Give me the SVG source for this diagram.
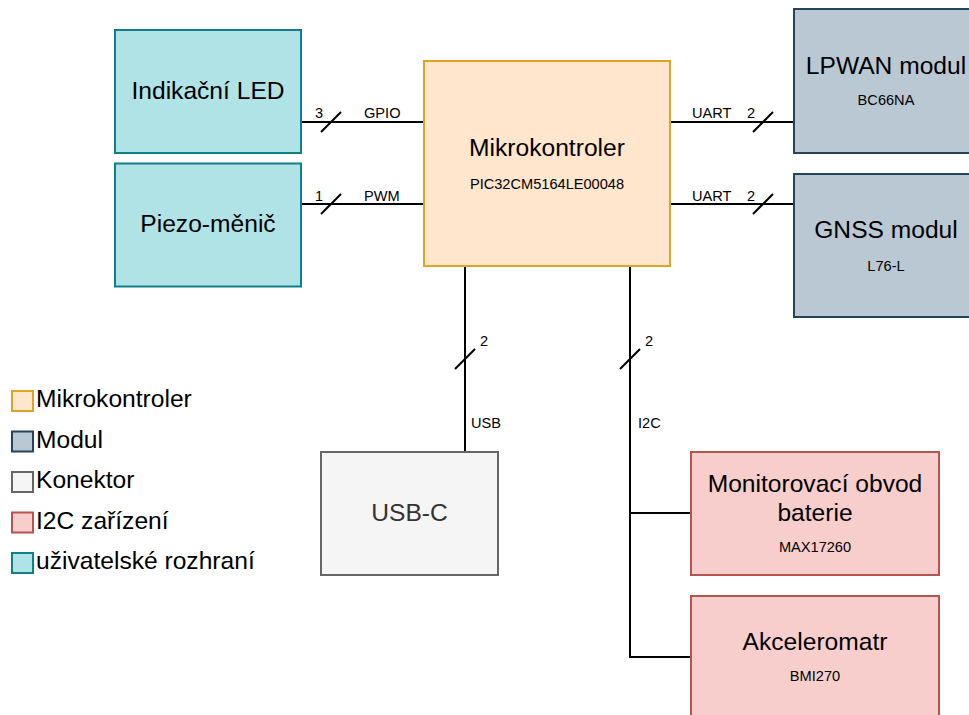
<svg xmlns="http://www.w3.org/2000/svg" width="969" height="715" viewBox="0 0 969 715">
<style>
text{font-family:"Liberation Sans",Arial,sans-serif;fill:#000}
.big{font-size:24.6px;text-anchor:middle}
.sm{font-size:14.6px;text-anchor:middle}
.lbl{font-size:14.6px}
.leg{font-size:24.6px}
.b{stroke-width:2}
.mcu{fill:#ffe6cc;stroke:#e0a424}
.mod{fill:#bac8d3;stroke:#23445d}
.con{fill:#f5f5f5;stroke:#666666}
.i2c{fill:#f8cecc;stroke:#b85450}
.ui{fill:#b0e3e6;stroke:#0e8088}
.w{fill:none;stroke:#000;stroke-width:2}
</style>
<g id="connectors">
<path class="w" d="M301 122H424M321 132L341 112"/>
<path class="w" d="M301 204H424M321 214L341 194"/>
<path class="w" d="M670 122H794M753 132L773 112"/>
<path class="w" d="M670 204H794M753 214L773 194"/>
<path class="w" d="M465 266V452M455 369L475 349"/>
<path class="w" d="M630 266V657H691M630 513H691M620 369L640 349"/>
<text class="lbl" x="315" y="118">3</text>
<text class="lbl" x="364" y="118">GPIO</text>
<text class="lbl" x="315" y="201">1</text>
<text class="lbl" x="364" y="201">PWM</text>
<text class="lbl" x="692" y="118">UART</text>
<text class="lbl" x="747" y="118">2</text>
<text class="lbl" x="692" y="201">UART</text>
<text class="lbl" x="747" y="201">2</text>
<text class="lbl" x="480" y="346">2</text>
<text class="lbl" x="645" y="346">2</text>
<text class="lbl" x="471" y="428">USB</text>
<text class="lbl" x="638" y="428">I2C</text>
</g>
<g id="led">
<rect class="ui b" x="115" y="30" width="186" height="123"/>
<text class="big" x="208" y="99">Indikační LED</text>
</g>
<g id="piezo">
<rect class="ui b" x="115" y="163.5" width="186" height="123"/>
<text class="big" x="208" y="232">Piezo-měnič</text>
</g>
<g id="mcu">
<rect class="mcu b" x="424" y="61" width="246" height="205"/>
<text class="big" x="547" y="156">Mikrokontroler</text>
<text class="sm" x="547" y="189">PIC32CM5164LE00048</text>
</g>
<g id="lpwan">
<rect class="mod b" x="794" y="9" width="184" height="144"/>
<text class="big" x="886" y="74">LPWAN modul</text>
<text class="sm" x="886" y="105">BC66NA</text>
</g>
<g id="gnss">
<rect class="mod b" x="794" y="174" width="184" height="143"/>
<text class="big" x="886" y="238">GNSS modul</text>
<text class="sm" x="886" y="271">L76-L</text>
</g>
<g id="usbc">
<rect class="con b" x="321" y="452" width="177" height="123"/>
<text class="big" x="409.5" y="521" style="fill:#333333">USB-C</text>
</g>
<g id="fuel">
<rect class="i2c b" x="691" y="452" width="248" height="123"/>
<text class="big" x="815" y="492">Monitorovací obvod</text>
<text class="big" x="815" y="521">baterie</text>
<text class="sm" x="815" y="552">MAX17260</text>
</g>
<g id="accel">
<rect class="i2c b" x="691" y="596" width="248" height="123"/>
<text class="big" x="815" y="650">Akceleromatr</text>
<text class="sm" x="815" y="681">BMI270</text>
</g>
<g id="legend">
<rect class="mcu b" x="12" y="391" width="21" height="20"/>
<text class="leg" x="36" y="407">Mikrokontroler</text>
<rect class="mod b" x="12" y="431.5" width="21" height="20"/>
<text class="leg" x="36" y="447.5">Modul</text>
<rect class="con b" x="12" y="472" width="21" height="20"/>
<text class="leg" x="36" y="488">Konektor</text>
<rect class="i2c b" x="12" y="512.5" width="21" height="20"/>
<text class="leg" x="36" y="528.5">I2C zařízení</text>
<rect class="ui b" x="12" y="553" width="21" height="20"/>
<text class="leg" x="36" y="569">uživatelské rozhraní</text>
</g>
</svg>
